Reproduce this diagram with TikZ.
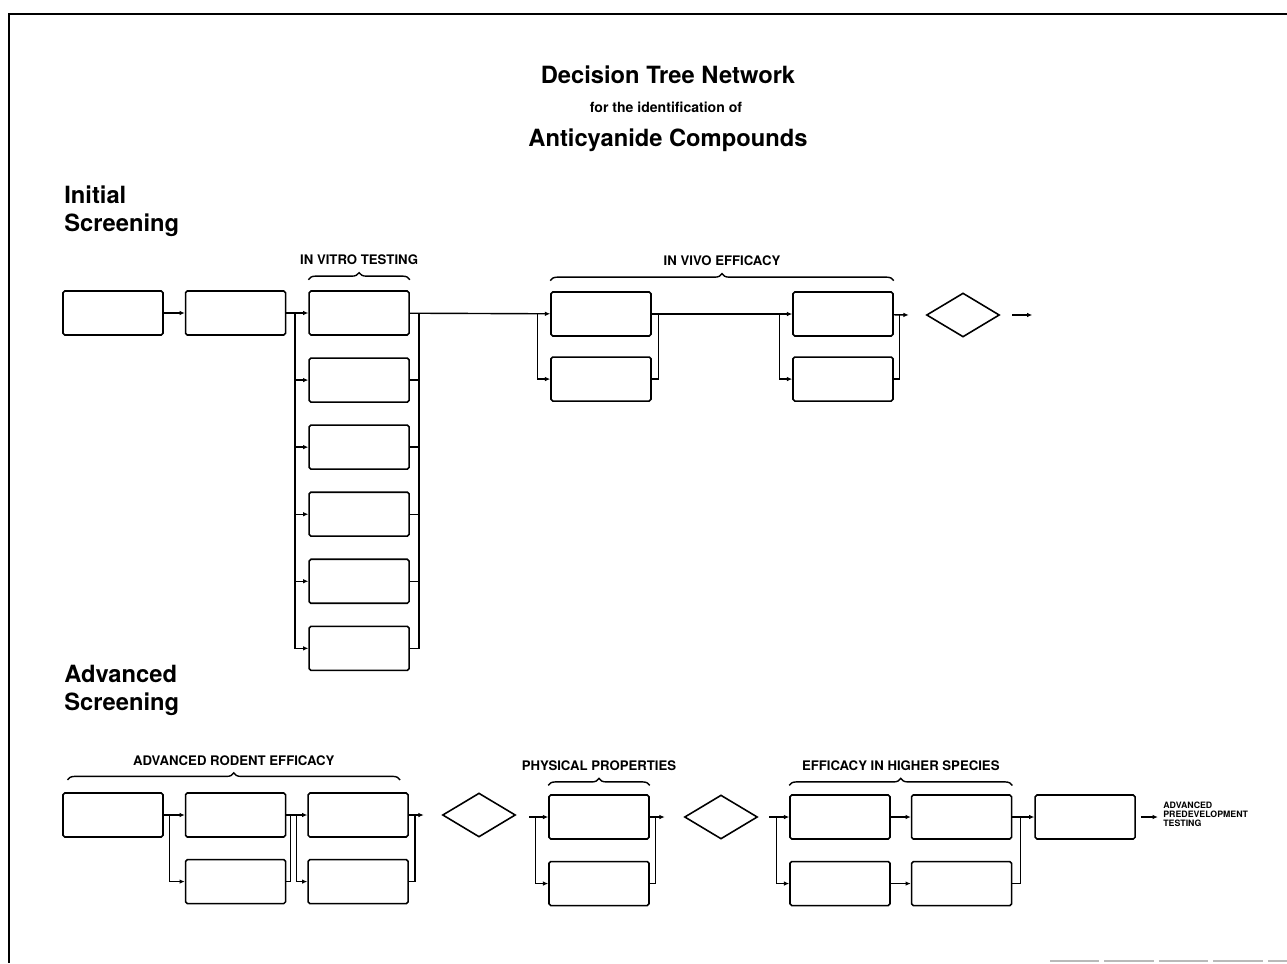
\documentclass[tikz,border=0pt]{standalone}
\usepackage{fontspec}
\setmainfont{TeX Gyre Heros}
\usetikzlibrary{arrows.meta,positioning,shapes.geometric,decorations.pathreplacing}
\tikzset{
  >={Latex[length=3pt,width=2.6pt]},
  box/.style ={draw,line width=0.9pt,rounded corners=1pt,minimum width=2cm,
               minimum height=0.88cm,inner sep=0pt},
  dmd/.style ={diamond,draw,line width=0.9pt,aspect=1.65,minimum width=1.46cm,
               minimum height=0.88cm,inner sep=0pt},
  ln/.style  ={line width=0.8pt},
  ar/.style  ={ln,->},
  brc/.style ={ln,decorate,decoration={brace,amplitude=4pt}},
  lbl/.style ={font=\bfseries\fontsize{7.5}{9}\selectfont,inner sep=1pt},
  ttl/.style ={font=\bfseries\fontsize{13.5}{16}\selectfont},
  sect/.style={font=\bfseries\fontsize{13.5}{16}\selectfont,align=left,inner sep=0pt},
}

\begin{document}
\begin{tikzpicture}[x=0.02cm,y=-0.02cm,node distance=4.2mm]
\useasboundingbox (0,0) rectangle (1287,963);
\draw[line width=1.6pt] (1287,14) -- (9,14) -- (9,963);
\draw[gray!55,line width=1pt,dash pattern=on 28pt off 3pt] (1050,961) -- (1287,961);

\node[ttl] (t1) at (668,75) {Decision Tree Network};
\node[font=\bfseries\fontsize{8}{9}\selectfont] (t2) at (666,107) {for the identification of};
\node[ttl] (t3) at (668,140) {Anticyanide Compounds};

\node[sect,anchor=north west] (s1) at (64,185) {Initial\\Screening};
\node[sect,anchor=north west] (s2) at (64,665) {Advanced\\Screening};

% initial screening
\node[box] (b1) at (113,313) {};
\node[box,right=of b1] (b2) {};
\node[box,right=4.4mm of b2] (iv1) {};
\foreach \k [remember=\k as \j (initially 1)] in {2,...,6}
  \node[box,below=4.3mm of iv\j] (iv\k) {};
\node[box] (v1) at (601,314) {};
\node[box,below=3.9mm of v1] (v1b) {};
\node[box] (v2) at (843,314) {};
\node[box,below=3.9mm of v2] (v2b) {};
\node[dmd] (d1) at (963,315) {};

\draw[ar] (b1) -- (b2);
\draw[ar] (b2) -- (iv1);
\path (b2.east) -- (iv1.west) coordinate[pos=0.4] (ivl);
\path (iv1.east) ++(9,0) coordinate (ivr);
\foreach \k in {2,...,6} {
  \draw[ar] (ivl) |- (iv\k.west);
  \draw[ln] (iv\k.east) -| (ivr);
}
\draw[ar] (iv1) -- (v1);
\path (v1.west) ++(-13,0) coordinate (v1l);
\path (v1.east) ++(7,0) coordinate (v1r);
\draw[ar] (v1l) |- (v1b.west);
\draw[ln] (v1b.east) -| (v1r);
\draw[ar] (v1) -- (v2);
\path (v2.west) ++(-13,0) coordinate (v2l);
\path (v2.east) ++(6,0) coordinate (v2r);
\draw[ar] (v2l) |- (v2b.west);
\draw[ln] (v2b.east) -| (v2r);
\path (d1.west) ++(-17,0) coordinate (d1in);
\draw[ar] (v2) -- (d1in);
\path (d1.east) ++(12,0) coordinate (o1a) ++(20,0) coordinate (o1b);
\draw[ar] (o1a) -- (o1b);

\draw[brc] ([yshift=6pt]iv1.north west) -- ([yshift=6pt]iv1.north east)
  node[lbl,midway,above=7pt] {IN VITRO TESTING};
\draw[brc] ([yshift=6pt]v1.north west) -- ([yshift=6pt]v2.north east)
  node[lbl,midway,above=7pt] {IN VIVO EFFICACY};

% advanced screening
\node[box] (a1) at (113,815) {};
\node[box,right=of a1] (a2) {};
\node[box,right=of a2] (a3) {};
\node[box,below=of a2] (a2b) {};
\node[box,below=of a3] (a3b) {};
\node[dmd] (d2) at (479,815) {};
\node[box] (p1) at (599,817) {};
\node[box,below=of p1] (p1b) {};
\node[dmd] (d3) at (721,817) {};
\node[box] (e1) at (840,817) {};
\node[box,right=4mm of e1] (e2) {};
\node[box,below=of e1] (e1b) {};
\node[box,below=of e2] (e2b) {};
\node[box,right=4.4mm of e2] (f1) {};
\node[font=\bfseries\fontsize{5}{5.2}\selectfont,align=left,anchor=west,inner sep=0pt]
  (f1t) at (1163,814) {ADVANCED\\PREDEVELOPMENT\\TESTING};

\draw[ar] (a1) -- (a2);
\path (a1.east) ++(6,0) coordinate (a1r);
\draw[ar] (a1r) |- (a2b.west);
\draw[ar] (a2) -- (a3);
\path (a2.east) ++(4,0) coordinate (a2r);
\path (a3.west) ++(-11,0) coordinate (a3l);
\draw[ln] (a2b.east) -| (a2r);
\draw[ar] (a3l) |- (a3b.west);
\path (a3.east) ++(6,0) coordinate (a3r);
\draw[ln] (a3b.east) -| (a3r);
\path (d2.west) ++(-18,0) coordinate (d2in);
\draw[ar] (a3) -- (d2in);

\path (p1.west) ++(-19,0) coordinate (p1in);
\path (p1.west) ++(-13,0) coordinate (p1l);
\path (p1.east) ++(6,0) coordinate (p1r);
\draw[ar] (p1in) -- (p1);
\draw[ar] (p1l) |- (p1b.west);
\draw[ln] (p1b.east) -| (p1r);
\path (d3.west) ++(-19,0) coordinate (d3in);
\draw[ar] (p1) -- (d3in);

\path (e1.west) ++(-20,0) coordinate (e1in);
\path (e1.west) ++(-13,0) coordinate (e1l);
\draw[ar] (e1in) -- (e1);
\draw[ar] (e1l) |- (e1b.west);
\draw[ar] (e1) -- (e2);
\draw[ar] (e1b) -- (e2b);
\path (e2.east) ++(8,0) coordinate (e2r);
\draw[ln] (e2b.east) -| (e2r);
\draw[ar] (e2) -- (f1);
\path (f1.east) ++(5,0) coordinate (fa) ++(17,0) coordinate (fb);
\draw[ar] (fa) -- (fb);

\draw[brc] ([xshift=3pt,yshift=7pt]a1.north west) -- ([xshift=-5pt,yshift=7pt]a3.north east)
  node[lbl,midway,above=7pt] {ADVANCED RODENT EFFICACY};
\draw[brc] ([yshift=5pt]p1.north west) -- ([yshift=5pt]p1.north east)
  node[lbl,midway,above=7pt] {PHYSICAL PROPERTIES};
\draw[brc] ([yshift=5pt]e1.north west) -- ([yshift=5pt]e2.north east)
  node[lbl,midway,above=7pt] {EFFICACY IN HIGHER SPECIES};
\end{tikzpicture}
\end{document}
